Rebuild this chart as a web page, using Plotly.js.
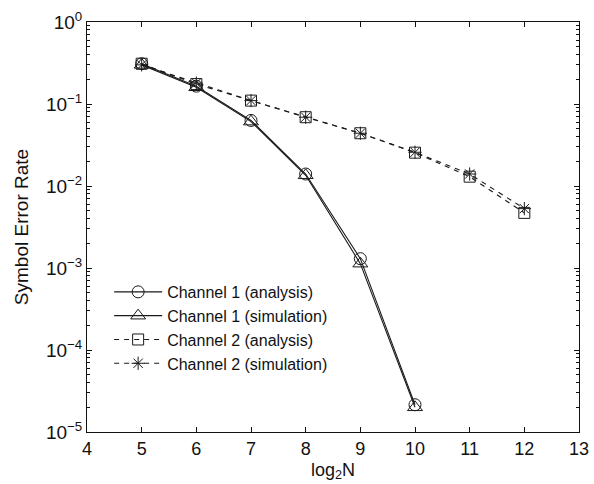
<!DOCTYPE html>
<html>
<head>
<meta charset="utf-8">
<script src="https://cdn.plot.ly/plotly-3.0.1.min.js"></script>
<style>
  html, body { margin: 0; padding: 0; background: #fff; }
  #chart { width: 594px; height: 484px; }
</style>
</head>
<body>
<div id="chart"></div>
<script>
// Block length exponent log2(N)
const xCh1 = [5, 6, 7, 8, 9, 10];
const xCh2 = [5, 6, 7, 8, 9, 10, 11, 12];

// Symbol error rates
const ch1Analysis   = [0.31, 0.165, 0.063, 0.0140, 0.00130, 2.15e-5];
const ch1Simulation = [0.30, 0.160, 0.061, 0.0135, 0.00113, 2.0e-5];
const ch2Analysis   = [0.31, 0.175, 0.110, 0.069, 0.044, 0.0255, 0.0130, 0.0047];
const ch2Simulation = [0.30, 0.180, 0.110, 0.069, 0.044, 0.0258, 0.0140, 0.0053];

const seriesNames = [
  'Channel 1 (analysis)',
  'Channel 1 (simulation)',
  'Channel 2 (analysis)',
  'Channel 2 (simulation)'
];

const decadeVals = [1e-5, 1e-4, 1e-3, 1e-2, 1e-1, 1];
const decadeText = ['10<sup>−5</sup>', '10<sup>−4</sup>', '10<sup>−3</sup>',
                    '10<sup>−2</sup>', '10<sup>−1</sup>', '10<sup>0</sup>'];
const xTicks = [4, 5, 6, 7, 8, 9, 10, 11, 12, 13];

// minor tick positions 2..9 within every decade
const minorVals = [];
for (let e = -5; e < 0; e++) {
  for (let m = 2; m <= 9; m++) minorVals.push(m * Math.pow(10, e));
}

const ink = '#1a1a1a';
const lineW = 1.1;

const traces = [
  {
    x: xCh1, y: ch1Analysis, name: seriesNames[0], mode: 'lines+markers',
    line: { color: ink, width: lineW, dash: 'solid' },
    marker: { symbol: 'circle-open', size: 12, color: ink, line: { width: 1 } }
  },
  {
    x: xCh1, y: ch1Simulation, name: seriesNames[1], mode: 'lines+markers',
    line: { color: ink, width: lineW, dash: 'solid' },
    marker: { symbol: 'triangle-up-open', size: 13, color: ink, line: { width: 1 } }
  },
  {
    x: xCh2, y: ch2Analysis, name: seriesNames[2], mode: 'lines+markers',
    line: { color: ink, width: lineW, dash: '5px,5px' },
    marker: { symbol: 'square-open', size: 11, color: ink, line: { width: 1 } }
  },
  {
    x: xCh2, y: ch2Simulation, name: seriesNames[3], mode: 'lines+markers',
    line: { color: ink, width: lineW, dash: '5px,5px' },
    marker: { symbol: 'asterisk-open', size: 11, color: ink, line: { width: 1 } }
  }
];

const font = { family: 'Liberation Sans, Arial, Helvetica, sans-serif', color: '#111' };

const layout = {
  width: 594, height: 484,
  margin: { l: 87, r: 15, t: 22, b: 52 },
  paper_bgcolor: '#fff', plot_bgcolor: '#fff',
  font: Object.assign({ size: 18 }, font),
  showlegend: true,
  legend: {
    x: 0.045, y: 0.383, xanchor: 'left', yanchor: 'top',
    bgcolor: 'rgba(0,0,0,0)', borderwidth: 0,
    font: Object.assign({}, font, { size: 16 }),
    itemwidth: 48, tracegroupgap: 0
  },
  xaxis: {
    range: [4, 13], tickmode: 'array', tickvals: xTicks,
    ticks: 'inside', ticklen: 5, tickwidth: 1, tickcolor: '#111',
    showline: true, linecolor: '#111', linewidth: 1, mirror: 'ticks',
    showgrid: false, zeroline: false,
    tickfont: Object.assign({}, font, { size: 18 }),
    title: { text: 'log<sub>2</sub>N', font: Object.assign({}, font, { size: 18 }), standoff: 5 }
  },
  yaxis: {
    type: 'log', range: [-5, 0],
    tickmode: 'array', tickvals: decadeVals, ticktext: decadeText,
    ticks: 'inside', ticklen: 5, tickwidth: 1, tickcolor: '#111',
    showline: true, linecolor: '#111', linewidth: 1, mirror: 'ticks',
    showgrid: false, zeroline: false,
    tickfont: Object.assign({}, font, { size: 19 }),
    minor: { tickmode: 'array', tickvals: minorVals, ticks: 'inside', ticklen: 3, tickcolor: '#111', showgrid: false },
    title: { text: 'Symbol Error Rate', font: Object.assign({}, font, { size: 19 }), standoff: 12 }
  }
};

Plotly.newPlot('chart', traces, layout, { displayModeBar: false, staticPlot: true });
</script>
</body>
</html>
